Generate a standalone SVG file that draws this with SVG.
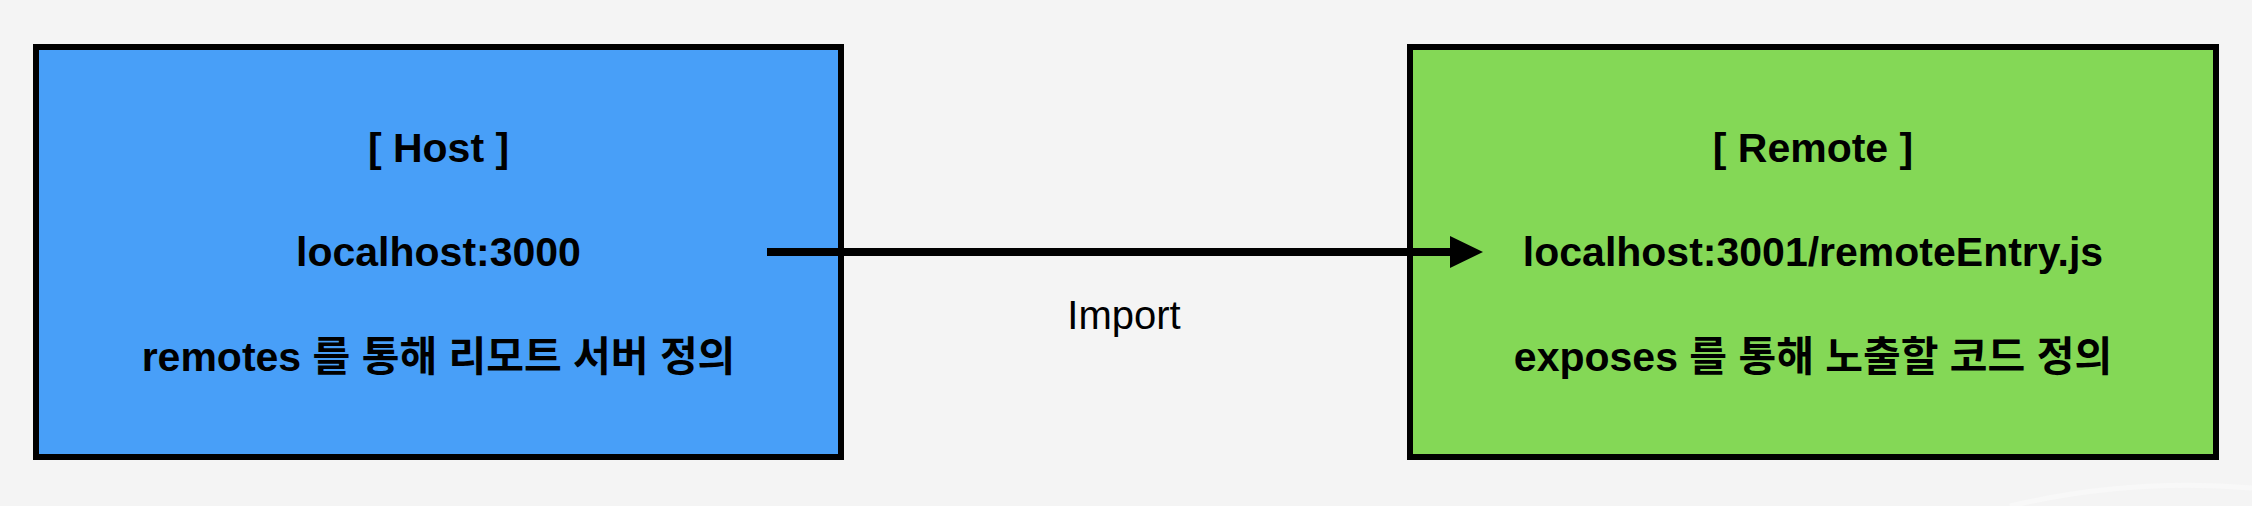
<svg xmlns="http://www.w3.org/2000/svg" width="2252" height="506" viewBox="0 0 2252 506">
  <style>
    .box { stroke: #000; stroke-width: 6; }
    .t { font-family: "Liberation Sans", "Noto Sans CJK KR", Arial, sans-serif; font-size: 41px; font-weight: bold; fill: #000; text-anchor: middle; }
    .lbl { font-family: "Liberation Sans", Arial, sans-serif; font-size: 40px; fill: #000; text-anchor: middle; }
  </style>
  <defs>
    <marker id="arrow" markerUnits="userSpaceOnUse" markerWidth="34" markerHeight="34" refX="4" refY="16" orient="auto">
      <path d="M0,0 L33,16 L0,32 Z" fill="#000"/>
    </marker>
  </defs>
  <rect width="2252" height="506" fill="#f4f4f4"/>
  <path d="M2010,506 Q2130,478 2252,488" fill="none" stroke="#f8f8f8" stroke-width="5"/>
  <g id="host">
    <rect class="box" x="36" y="47" width="805" height="410" fill="#489ff8"/>
    <text class="t" x="438.5" y="162">[ Host ]</text>
    <text class="t" x="438.5" y="266">localhost:3000</text>
    <text class="t" x="438.5" y="371">remotes 를 통해 리모트 서버 정의</text>
  </g>
  <g id="remote">
    <rect class="box" x="1410" y="47" width="806" height="410" fill="#84d856"/>
    <text class="t" x="1813" y="162">[ Remote ]</text>
    <text class="t" x="1813" y="266">localhost:3001/remoteEntry.js</text>
    <text class="t" x="1813" y="371">exposes 를 통해 노출할 코드 정의</text>
  </g>
  <g id="connectors">
    <line x1="767" y1="252" x2="1454" y2="252" stroke="#000" stroke-width="8" marker-end="url(#arrow)"/>
    <text class="lbl" x="1124" y="329">Import</text>
  </g>
</svg>
